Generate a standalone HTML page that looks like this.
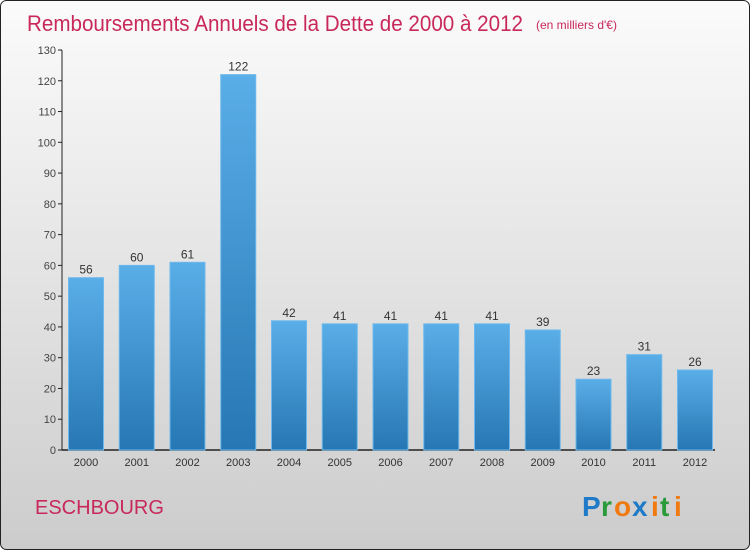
<!DOCTYPE html>
<html><head><meta charset="utf-8"><style>
body{margin:0;width:750px;height:550px;overflow:hidden;font-family:"Liberation Sans",sans-serif}
</style></head><body>
<svg width="750" height="550" xmlns="http://www.w3.org/2000/svg">
<defs>
<linearGradient id="bg" x1="0" y1="0" x2="0" y2="1"><stop offset="0" stop-color="#fbfbfb"/><stop offset="1" stop-color="#cccccc"/></linearGradient>
<linearGradient id="bar" x1="0" y1="0" x2="0" y2="1"><stop offset="0" stop-color="#5aaee8"/><stop offset="1" stop-color="#2677b3"/></linearGradient>
</defs>
<rect x="0.5" y="0.5" width="749" height="549" rx="6" fill="url(#bg)" stroke="#222"/>
<text x="27" y="31" font-size="22" fill="#c8285a" textLength="496" lengthAdjust="spacingAndGlyphs">Remboursements Annuels de la Dette de 2000 à 2012</text>
<text x="536" y="29" font-size="12" fill="#c8285a">(en milliers d'€)</text>
<g id="ax"></g>
<g id="bars"></g>
<text x="35" y="514" font-size="20" fill="#c8285a">ESCHBOURG</text>
<g font-size="28" font-weight="bold" font-family="'Liberation Sans',sans-serif">
<text x="582" y="516" fill="#1f7ac8">P</text><text x="601" y="516" fill="#2a9a3a">r</text><text x="614" y="516" fill="#f07a10">o</text><text x="632" y="516" fill="#1f7ac8">x</text><text x="651" y="516" fill="#f07a10">i</text><text x="660" y="516" fill="#2a9a3a">t</text><text x="674" y="516" fill="#f07a10">i</text>
</g>
</svg>
<script>
const categories=["2000","2001","2002","2003","2004","2005","2006","2007","2008","2009","2010","2011","2012"];
const values=[56,60,61,122,42,41,41,41,41,39,23,31,26];
const yTicks=[0,10,20,30,40,50,60,70,80,90,100,110,120,130];
const NS="http://www.w3.org/2000/svg";
const y0=450,yTop=50,yMax=130;
const yScale=v=>y0-(v/yMax)*(y0-yTop);
const x0=86,step=(695-86)/12,bw=35;
const xScale=i=>x0+i*step;
function mk(t,a,p){const e=document.createElementNS(NS,t);for(const k in a)e.setAttribute(k,a[k]);p.appendChild(e);return e;}
const ax=document.getElementById('ax'),bars=document.getElementById('bars');
const yl=mk('line',{x1:62,y1:y0,x2:62,y2:yTop,stroke:'#222'},ax);


const xl=mk('line',{x1:62,y1:y0,x2:715,y2:y0,stroke:'#222','stroke-width':1.5},ax);


yTicks.forEach(v=>{const y=yScale(v);
mk('line',{x1:58,y1:y,x2:62,y2:y,stroke:'#222'},ax);
const t=mk('text',{x:56,y:y+4,'font-size':11,fill:'#444','text-anchor':'end'},ax);t.textContent=v;

});
categories.forEach((c,i)=>{const cx=xScale(i),v=values[i],y=yScale(v);
const r=mk('rect',{x:cx-bw/2,y:y,width:bw,height:y0-y,fill:'url(#bar)',stroke:'#6db8ec','stroke-width':1},bars);


const l=mk('text',{x:cx,y:y-4,'font-size':12,fill:'#333','text-anchor':'middle'},bars);l.textContent=v;


const xt=mk('text',{x:cx,y:466,'font-size':11,fill:'#333','text-anchor':'middle'},ax);xt.textContent=c;

});
</script>
</body></html>
